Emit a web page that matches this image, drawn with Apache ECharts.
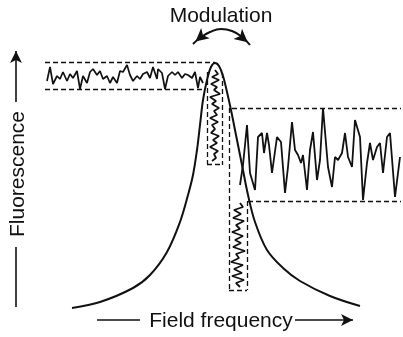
<!DOCTYPE html>
<html>
<head>
<meta charset="utf-8">
<script src="https://cdn.jsdelivr.net/npm/echarts@6/dist/echarts.min.js"></script>
<style>
html,body{margin:0;padding:0;background:#fff;}
#c{width:403px;height:337px;}
</style>
</head>
<body>
<div id="c"></div>
<script>
// Lorentzian resonance (field frequency vs fluorescence)
const curveFreq  = [72,100,133,150,167,180,188,193,197,200,203,207,211,215,219,223,227,231,236,242,248,255,267,283,300,330,360];
const curveFluor = [29,35,49,62,85,115,142,162,187,212,237,257,270,274,271,261,245,227,202,172,142,115,87,69,56,41,31];

// noisy fluorescence at left side (time runs horizontally)
const leftNoiseT = [47,50,53,57,60,63,67,70,73,77,80,83,87,90,93,97,100,103,107,110,113,117,120,123,127,130,133,137,140,143,147,150,153,157,158,162,165,168,172,175,178,182,185,188,192,195,198,200,203];
const leftNoiseF = [256,270,253,261,258,265,256,263,259,266,248,261,254,265,268,262,266,258,261,254,260,254,266,265,272,262,256,261,258,263,265,259,270,258,268,264,248,261,265,262,265,259,263,262,259,265,249,260,254];

// noisy fluorescence at right side (on the slope)
const rightNoiseT = [240,243,247,250,255,258,262,264,267,269,272,277,281,285,288,292,295,298,301,303,307,310,313,317,320,323,328,332,335,338,342,345,348,352,355,360,363,367,370,373,377,380,383,387,390,395,400];
const rightNoiseF = [152,172,212,164,147,200,204,184,204,192,164,200,195,144,170,215,187,182,174,182,147,187,205,157,177,229,170,150,180,177,184,204,180,170,217,200,137,174,194,177,190,194,164,200,204,140,180];

// frequency noise near the peak (vertical trace)
const peakNoiseF = [215,218,212,219,211,217,214,220,210,216,212,219,214,217,210,218,212,215,211,219,213,217,210,218,214,216,212];
const peakNoiseY = [267,263,260,257,253,250,247,243,240,236,233,229,226,222,219,215,212,208,204,201,197,194,190,186,183,179,176];

// frequency noise on the slope (vertical trace)
const slopeNoiseF = [240,243,234,241,233,244,236,240,232,243,235,241,233,245,236,239,231,243,234,242,232,244,236,240];
const slopeNoiseY = [134,130,127,123,119,116,112,108,105,101,97,94,90,86,83,79,75,72,68,64,61,57,54,50];

// "Modulation" double arrow arc
const modArcF = [193,200,210,221,232,242,250];
const modArcY = [293,299,305,308,306,300,292];
const modHeads = [[195.5,295.5,130],[247.7,294.7,-130]];

// dashed guide segments [f1, y1, f2, y2]
const guides = [
  [45,275,215,275],[45,248,203,248],
  [232,229,401,229],[248,136,401,136],
  [207,265,207,173],[222,264,222,172],[207,173,222,173],
  [229,229,229,47],[247,136,247,47],[229,47,247,47]
];

const zip = (a,b) => a.map((v,i)=>[v,b[i]]);

const chart = echarts.init(document.getElementById('c'), null, {renderer:'canvas'});
const ink = '#111';
const seg = s => [{coord:[s[0],s[1]]},{coord:[s[2],s[3]]}];
const font = '21px "Liberation Sans", Arial, sans-serif';

chart.setOption({
  animation:false,
  backgroundColor:'#fff',
  grid:{left:0,right:0,top:0,bottom:0},
  xAxis:{type:'value',min:0,max:403,show:false},
  yAxis:{type:'value',min:0,max:337,show:false},
  series:[
    {type:'line',data:zip(curveFreq,curveFluor),smooth:0.35,showSymbol:false,
     lineStyle:{color:ink,width:2}},
    {type:'line',data:zip(leftNoiseT,leftNoiseF),showSymbol:false,
     lineStyle:{color:ink,width:1.7}},
    {type:'line',data:zip(rightNoiseT,rightNoiseF),showSymbol:false,
     lineStyle:{color:ink,width:1.8}},
    {type:'line',data:zip(peakNoiseF,peakNoiseY),showSymbol:false,
     lineStyle:{color:ink,width:1.8}},
    {type:'line',data:zip(slopeNoiseF,slopeNoiseY),showSymbol:false,
     lineStyle:{color:ink,width:1.8}},
    {type:'line',data:[],silent:true,
     markLine:{silent:true,symbol:['none','none'],label:{show:false},
       lineStyle:{color:ink,width:1.3,type:[5,3]},
       emphasis:{disabled:true},
       data:guides.map(seg)}},
    {type:'line',data:[],silent:true,
     markLine:{silent:true,label:{show:false},emphasis:{disabled:true},
       lineStyle:{color:ink,width:1.6,type:'solid'},
       data:[
         [{coord:[16,235],symbol:'none'},{coord:[16,286],symbol:'arrow',symbolSize:[9,12]}],
         [{coord:[16,90],symbol:'none'},{coord:[16,30],symbol:'none'}],
         [{coord:[97,17],symbol:'none'},{coord:[140,17],symbol:'none'}],
         [{coord:[295,17],symbol:'none'},{coord:[353,17],symbol:'arrow',symbolSize:[9,12]}]
       ]}},
    {type:'line',data:zip(modArcF,modArcY),smooth:true,showSymbol:false,silent:true,
     lineStyle:{color:ink,width:2},
     markPoint:{silent:true,symbol:'arrow',symbolSize:[10,13],
       itemStyle:{color:ink},label:{show:false},
       data:modHeads.map(h=>({coord:[h[0],h[1]],symbolRotate:h[2]}))}}
  ],
  graphic:[
    {type:'text',x:221,y:16,style:{text:'Modulation',font:font,fill:ink,align:'center',verticalAlign:'middle'}},
    {type:'text',x:221,y:321,style:{text:'Field frequency',font:font,fill:ink,align:'center',verticalAlign:'middle'}},
    {type:'text',x:18,y:174,rotation:Math.PI/2,style:{text:'Fluorescence',font:font,fill:ink,align:'center',verticalAlign:'middle'}}
  ]
});
</script>
</body>
</html>
